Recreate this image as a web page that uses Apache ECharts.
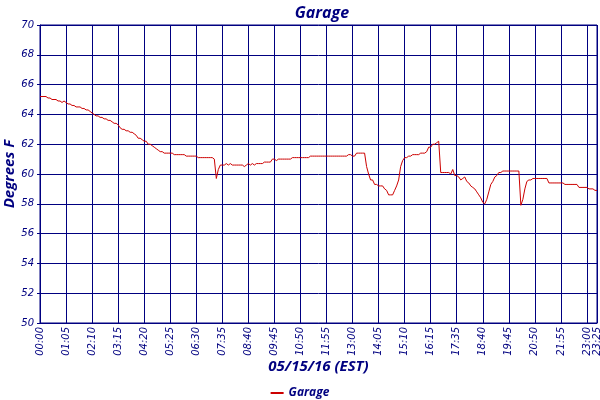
<!DOCTYPE html>
<html>
<head>
<meta charset="utf-8">
<script src="https://cdn.jsdelivr.net/npm/echarts@6/dist/echarts.min.js"></script>
<style>html,body{margin:0;padding:0;background:#fff}#c{width:600px;height:400px}</style>
</head>
<body>
<div id="c"></div>
<script>
var chartTitle = 'Garage';
var xAxisTitle = '05/15/16 (EST)';
var yAxisTitle = 'Degrees F';
var seriesName = 'Garage';

// 5-minute readings; three slots missing right after 16:15
var missingAfter = '16:15';
var missingCount = 3;
var pointCount = 279;

var garage = [
65.2,65.2,65.2,65.2,65.1,65.1,65.0,65.0,65.0,64.9,
64.9,64.8,64.9,64.8,64.7,64.7,64.6,64.6,64.5,64.5,
64.5,64.4,64.4,64.3,64.3,64.2,64.1,64.0,63.9,63.9,
63.8,63.8,63.7,63.7,63.6,63.6,63.5,63.4,63.4,63.3,
63.1,63.0,63.0,62.9,62.9,62.8,62.8,62.7,62.6,62.4,
62.4,62.3,62.2,62.2,62.0,62.0,61.9,61.8,61.7,61.6,
61.5,61.5,61.4,61.4,61.4,61.4,61.4,61.3,61.3,61.3,
61.3,61.3,61.3,61.2,61.2,61.2,61.2,61.2,61.2,61.1,
61.1,61.1,61.1,61.1,61.1,61.1,61.1,61.0,59.7,60.3,
60.6,60.6,60.6,60.7,60.6,60.7,60.6,60.6,60.6,60.6,
60.6,60.6,60.5,60.6,60.7,60.6,60.7,60.6,60.7,60.7,
60.7,60.7,60.8,60.8,60.8,60.8,61.0,61.0,60.9,61.0,
61.0,61.0,61.0,61.0,61.0,61.0,61.1,61.1,61.1,61.1,
61.1,61.1,61.1,61.1,61.1,61.2,61.2,61.2,61.2,61.2,
61.2,61.2,61.2,61.2,61.2,61.2,61.2,61.2,61.2,61.2,
61.2,61.2,61.2,61.2,61.3,61.3,61.2,61.2,61.4,61.4,
61.4,61.4,61.4,60.5,60.0,59.6,59.6,59.3,59.3,59.2,
59.2,59.2,59.0,58.9,58.6,58.6,58.6,58.9,59.2,59.6,
60.5,60.9,61.1,61.1,61.2,61.2,61.3,61.3,61.3,61.3,
61.4,61.4,61.4,61.5,61.8,61.8,62.0,62.0,62.1,62.2,
60.1,60.1,60.1,60.1,60.1,60.0,60.3,59.9,59.9,59.8,
59.6,59.7,59.8,59.5,59.4,59.2,59.1,59.0,58.8,58.6,
58.4,58.1,58.0,58.3,58.8,59.3,59.5,59.8,59.9,60.1,
60.1,60.2,60.2,60.2,60.2,60.2,60.2,60.2,60.2,60.2,
57.9,58.3,59.0,59.5,59.6,59.6,59.7,59.7,59.7,59.7,
59.7,59.7,59.7,59.7,59.4,59.4,59.4,59.4,59.4,59.4,
59.4,59.4,59.3,59.3,59.3,59.3,59.3,59.3,59.3,59.1,
59.1,59.1,59.1,59.1,59.0,59.0,59.0,58.9,58.9
];

var yMin = 50, yMax = 70, yStep = 2;
var labelEvery = 13;

function pad(n){return (n<10?'0':'')+n;}
var times = [];
var minute = 0;
while (times.length < pointCount) {
  var t = pad(Math.floor(minute/60)) + ':' + pad(minute%60);
  times.push(t);
  minute += 5;
  if (t === missingAfter) minute += 5*missingCount;
}

var navy = '#000080';
var tickFilter = function(i){ return i % labelEvery === 0 || i === pointCount-1; };

var chart = echarts.init(document.getElementById('c'), null, {renderer:'canvas'});
chart.setOption({
  animation: false,
  backgroundColor: '#ffffff',
  title: {
    text: chartTitle,
    left: 317, top: 0, textAlign: 'center',
    textStyle: {color: navy, fontFamily: 'Open Sans', fontStyle: 'italic', fontWeight: 'bold', fontSize: 16}
  },
  legend: {
    data: [seriesName],
    left: 'center', top: 382,
    icon: 'rect', itemWidth: 13, itemHeight: 2,
    textStyle: {color: navy, fontFamily: 'Open Sans', fontStyle: 'italic', fontWeight: 'bold', fontSize: 12}
  },
  grid: {left: 40, top: 25, width: 557, height: 298, containLabel: false, outerBoundsMode: 'none',
         show: true, borderColor: navy, borderWidth: 1},
  xAxis: {
    type: 'category',
    data: times,
    boundaryGap: false,
    name: xAxisTitle,
    nameLocation: 'middle',
    nameGap: 44,
    nameMoveOverlap: false,
    nameTextStyle: {color: navy, fontFamily: 'Open Sans', fontStyle: 'italic', fontWeight: 'bold', fontSize: 15, verticalAlign: 'middle'},
    axisLine: {lineStyle: {color: navy, width: 1}},
    axisTick: {show: false},
    axisLabel: {interval: tickFilter, rotate: 90, color: navy, fontFamily: 'DejaVu Sans', fontStyle: 'italic', fontSize: 10, margin: 4,
                hideOverlap: false, showMaxLabel: true, showMinLabel: true},
    splitLine: {show: true, interval: tickFilter, lineStyle: {color: navy, width: 1}}
  },
  yAxis: {
    type: 'value',
    min: yMin, max: yMax, interval: yStep,
    name: yAxisTitle,
    nameLocation: 'middle',
    nameGap: 30,
    nameMoveOverlap: false,
    nameTextStyle: {color: navy, fontFamily: 'Open Sans', fontStyle: 'italic', fontWeight: 'bold', fontSize: 15, verticalAlign: 'middle'},
    axisLine: {show: true, lineStyle: {color: navy, width: 1}},
    axisTick: {show: true, length: 3, lineStyle: {color: navy}},
    axisLabel: {color: navy, fontFamily: 'DejaVu Sans', fontStyle: 'italic', fontSize: 10, margin: 6},
    splitLine: {show: true, lineStyle: {color: navy, width: 1}}
  },
  series: [{
    name: seriesName,
    type: 'line',
    data: garage,
    showSymbol: false,
    symbol: 'none',
    lineStyle: {color: '#cc0000', width: 1},
    itemStyle: {color: '#cc0000'}
  }]
});
</script>
</body>
</html>
